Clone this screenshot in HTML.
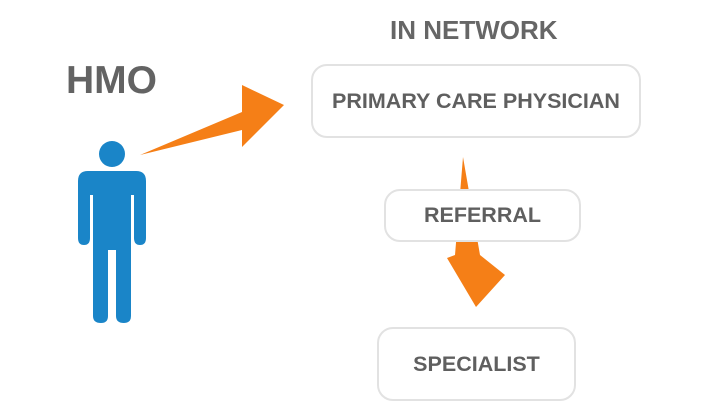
<!DOCTYPE html>
<html><head><style>
body{margin:0;width:720px;height:416px;background:#fff;position:relative;overflow:hidden;font-family:"Liberation Sans",sans-serif;font-weight:bold;color:#666}
.t{position:absolute;white-space:nowrap}
.box{position:absolute;border:2px solid #e2e2e2;border-radius:16px;background:#fff;display:flex;align-items:center;justify-content:center;font-size:21.5px;color:#5f5f5f;box-sizing:border-box}
</style></head><body>
<svg width="720" height="416" style="position:absolute;left:0;top:0">
<polygon points="140,155 242,112 242,85 284,105 242,147 242,130" fill="#f57f17"/>
<circle cx="112" cy="154" r="13" fill="#1a85c8"/>
<path d="M88,171 H136 Q146,171 146,181 V238 Q146,245 140,245 Q134,245 134,238 V195 H131 V316 Q131,323 124,323 Q116,323 116,316 V250 H108 V316 Q108,323 101,323 Q93,323 93,316 V195 H90 V238 Q90,245 84,245 Q78,245 78,238 V181 Q78,171 88,171Z" fill="#1a85c8"/>
<polygon points="463,157 480,255 505,275 476,307 447,258 455,255" fill="#f57f17"/>
</svg>
<div class="t" style="left:390px;top:15px;font-size:26px">IN NETWORK</div>
<div class="t" style="left:66px;top:59px;font-size:39px;color:#636363">HMO</div>
<div class="box" style="left:311px;top:64px;width:330px;height:74px">PRIMARY CARE PHYSICIAN</div>
<div class="box" style="left:384px;top:189px;width:197px;height:53px">REFERRAL</div>
<div class="box" style="left:377px;top:327px;width:199px;height:74px">SPECIALIST</div>
</body></html>
